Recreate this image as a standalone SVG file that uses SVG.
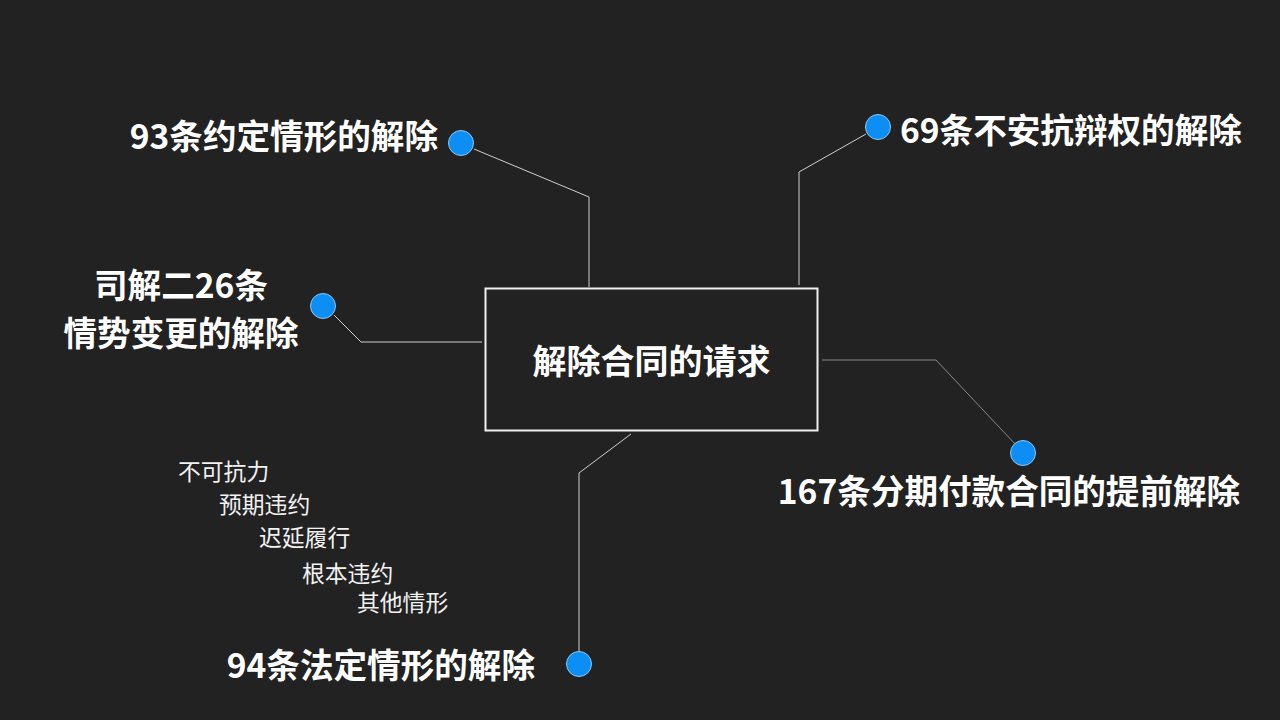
<svg xmlns="http://www.w3.org/2000/svg" width="1280" height="720" viewBox="0 0 1280 720">
<style>
.big{font-family:"Noto Sans CJK SC","Noto Sans",sans-serif;font-weight:bold;font-size:33.6px;fill:#ffffff}
.small{font-family:"Noto Sans CJK SC","Noto Sans",sans-serif;font-size:22.8px;fill:#f2f2f2}
.dot{fill:#0c8ef4;stroke:#8cc8f0;stroke-width:1}
.ln{fill:none;stroke:#cfcfcf;stroke-width:1}
</style>
<rect width="1280" height="720" fill="#222222"/>
<g id="connectors">
<polyline class="ln" points="474,149 589,197 589,287"/>
<polyline class="ln" points="866,134 799,172 799,285"/>
<polyline class="ln" points="334,315 361,342 482,342"/>
<polyline class="ln" points="1016,445 936,360 822,360" style="stroke:#8a8a8a"/>
<polyline class="ln" points="631,434 579,473 579,651"/>
</g>
<g id="center">
<rect x="485.5" y="288.5" width="332" height="142" fill="none" stroke="#f0f0f0" stroke-width="2"/>
<text class="big" x="651.5" y="359" text-anchor="middle" dominant-baseline="central" style="font-size:34px">解除合同的请求</text>
</g>
<g id="n93">
<circle class="dot" cx="461" cy="143" r="12.5"/>
<text class="big" x="438" y="134" text-anchor="end" dominant-baseline="central">93条约定情形的解除</text>
</g>
<g id="n69">
<circle class="dot" cx="878" cy="127" r="12.5"/>
<text class="big" x="900" y="128" dominant-baseline="central">69条不安抗辩权的解除</text>
</g>
<g id="n26">
<circle class="dot" cx="323" cy="306" r="12.5"/>
<text class="big" x="181" y="283" text-anchor="middle" dominant-baseline="central">司解二26条</text>
<text class="big" x="181" y="331" text-anchor="middle" dominant-baseline="central">情势变更的解除</text>
</g>
<g id="n167">
<circle class="dot" cx="1023" cy="453" r="12.5"/>
<text class="big" x="1009" y="489" text-anchor="middle" dominant-baseline="central">167条分期付款合同的提前解除</text>
</g>
<g id="n94">
<circle class="dot" cx="579" cy="664" r="12.5"/>
<text class="big" x="535" y="663" text-anchor="end" dominant-baseline="central">94条法定情形的解除</text>
</g>
<g id="sub">
<text class="small" x="178" y="470" dominant-baseline="central">不可抗力</text>
<text class="small" x="219" y="503" dominant-baseline="central">预期违约</text>
<text class="small" x="259" y="536" dominant-baseline="central">迟延履行</text>
<text class="small" x="302" y="572" dominant-baseline="central">根本违约</text>
<text class="small" x="357" y="601" dominant-baseline="central">其他情形</text>
</g>
</svg>
